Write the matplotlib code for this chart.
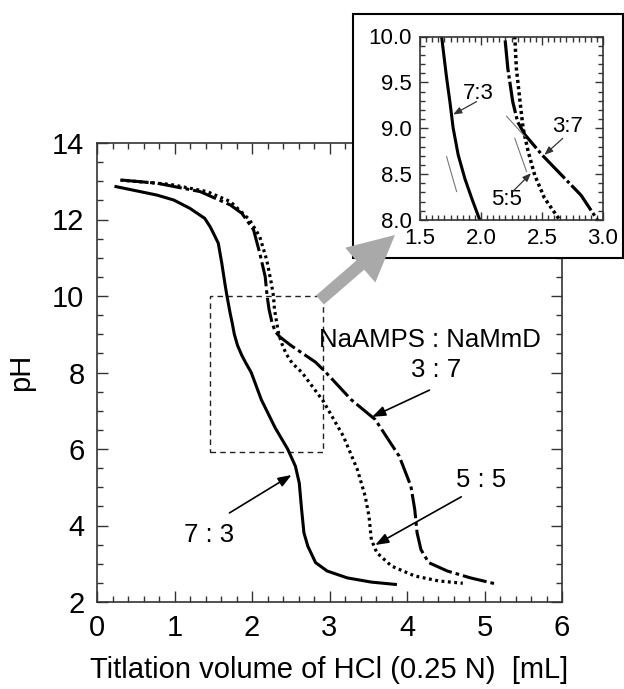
import matplotlib
matplotlib.use("Agg")
import matplotlib.pyplot as plt
from matplotlib.patches import Rectangle, FancyArrow
from matplotlib.ticker import MultipleLocator

plt.rcParams['font.family'] = ['Liberation Sans', 'DejaVu Sans']

# ---- data ----
x_73 = [0.245, 0.77, 0.99, 1.20, 1.39, 1.46, 1.50, 1.565, 1.61, 1.65, 1.677, 1.718, 1.745, 1.772,
        1.813, 1.868, 1.923, 1.99, 2.12, 2.30, 2.46, 2.56, 2.61, 2.64, 2.67, 2.72, 2.82, 2.97,
        3.23, 3.54, 3.85]
y_73 = [12.86, 12.64, 12.51, 12.29, 12.03, 11.81, 11.65, 11.38, 10.86, 10.33, 10.0, 9.55, 9.29, 9.0,
        8.71, 8.45, 8.24, 8.0, 7.29, 6.55, 6.0, 5.55, 5.11, 4.42, 3.81, 3.46, 3.03, 2.81,
        2.63, 2.52, 2.46]

x_55 = [0.30, 0.94, 1.42, 1.72, 1.97, 2.10, 2.19, 2.25, 2.277, 2.29, 2.32, 2.345, 2.386, 2.44, 2.52,
        2.645, 2.92, 3.18, 3.36, 3.46, 3.51, 3.54, 3.61, 3.80, 4.10, 4.41, 4.72]
y_55 = [13.03, 12.92, 12.73, 12.47, 11.99, 11.55, 10.94, 10.33, 10.0, 9.65, 9.29, 9.0, 8.75, 8.49, 8.24,
        8.0, 7.25, 6.33, 5.46, 4.77, 4.24, 3.63, 3.29, 2.94, 2.68, 2.55, 2.49]

x_37 = [0.32, 0.77, 1.33, 1.72, 1.87, 2.02, 2.10, 2.17, 2.195, 2.22, 2.26, 2.30, 2.36, 2.50, 2.66,
        2.82, 2.945, 3.28, 3.59, 3.90, 4.05, 4.10, 4.13, 4.18, 4.28, 4.52, 4.82, 5.13]
y_37 = [13.03, 12.95, 12.73, 12.38, 12.16, 11.73, 11.12, 10.51, 10.0, 9.65, 9.29, 9.07, 8.93, 8.71, 8.49,
        8.27, 8.02, 7.29, 6.77, 5.81, 5.03, 4.42, 3.81, 3.37, 3.03, 2.81, 2.63, 2.48]

xticks_main = [0, 1, 2, 3, 4, 5, 6]
yticks_main = [2, 4, 6, 8, 10, 12, 14]
xticks_inset = [1.5, 2.0, 2.5, 3.0]
yticks_inset = [8.0, 8.5, 9.0, 9.5, 10.0]

# tangent helper lines in the inset
tan_lines = [((1.718, 1.80), (8.69, 8.31)),
             ((2.21, 2.36), (9.13, 8.91)),
             ((2.277, 2.373), (8.89, 8.53))]

W, H = 624, 689
fig = plt.figure(figsize=(W / 100, H / 100), dpi=100)

# ---- main axes ----
ax = fig.add_axes([97 / W, 1 - 602 / H, (562 - 97) / W, (602 - 143) / H])
ax.plot(x_73, y_73, color='black', lw=2.2, ls='-')
ax.plot(x_55, y_55, color='black', lw=2.3, ls=(0, (0.9, 1.1)))
ax.plot(x_37, y_37, color='black', lw=2.2, ls=(0, (8, 1.3, 1.2, 1.3)))
ax.set_xlim(0, 6)
ax.set_ylim(2, 14)
ax.set_xticks(xticks_main)
ax.set_yticks(yticks_main)
ax.xaxis.set_minor_locator(MultipleLocator(0.2))
ax.yaxis.set_minor_locator(MultipleLocator(0.5))
ax.tick_params(which='both', direction='in', top=True, right=True, width=1.0, color='#333333')
ax.tick_params(which='major', length=8)
ax.tick_params(which='minor', length=4)
ax.tick_params(axis='x', which='major', labelsize=21, pad=9)
ax.tick_params(axis='y', which='major', labelsize=21, pad=9)
for s in ax.spines.values():
    s.set_linewidth(1.2)
    s.set_color('#333333')
ax.set_xlabel('Titlation volume of HCl (0.25 N)  [mL]', fontsize=21, labelpad=10)
ax.set_ylabel('pH', fontsize=21, labelpad=12)

# dashed zoom rectangle
ax.add_patch(Rectangle((1.46, 5.93), 2.92 - 1.46, 10.0 - 5.93, fill=False,
                       ls=(0, (4, 3)), lw=1.0, ec='#222222'))

ax.text(4.30, 8.85, 'NaAMPS : NaMmD', fontsize=18.5, ha='center', va='center')
ax.text(4.38, 8.07, '3 : 7', fontsize=18.5, ha='center', va='center')
ax.text(4.95, 5.19, '5 : 5', fontsize=18.5, ha='center', va='center')
ax.text(1.45, 3.75, '7 : 3', fontsize=18.5, ha='center', va='center')
ap = dict(arrowstyle='-|>,head_length=0.8,head_width=0.3', color='black', lw=1.2,
          shrinkA=0, shrinkB=0)
ax.annotate('', xy=(3.55, 6.84), xytext=(4.29, 7.54), arrowprops=ap)
ax.annotate('', xy=(3.59, 3.49), xytext=(4.70, 4.75), arrowprops=ap)
ax.annotate('', xy=(2.51, 5.32), xytext=(1.71, 4.33), arrowprops=ap)

# ---- inset frame ----
box = Rectangle((353 / W, 1 - 258 / H), (623 - 353) / W, (258 - 14) / H,
                transform=fig.transFigure, fc='white', ec='black', lw=1.5, zorder=1)
fig.patches.append(box)

# ---- inset axes ----
ai = fig.add_axes([420 / W, 1 - 220 / H, (603 - 420) / W, (220 - 36.5) / H], zorder=2)
ai.plot(x_73, y_73, color='black', lw=2.2)
ai.plot(x_55, y_55, color='black', lw=2.5, ls=(0, (0.9, 0.9)))
ai.plot(x_37, y_37, color='black', lw=2.3, ls=(0, (10, 1.0, 1.0, 1.0)))
for (tx, ty) in tan_lines:
    ai.plot(tx, ty, color='#777777', lw=0.8)
ai.set_xlim(1.5, 3.0)
ai.set_ylim(8.0, 10.0)
ai.set_xticks(xticks_inset)
ai.set_yticks(yticks_inset)
ai.set_xticklabels([f'{v:.1f}' for v in xticks_inset])
ai.set_yticklabels([f'{v:.1f}' for v in yticks_inset])
ai.xaxis.set_minor_locator(MultipleLocator(0.05))
ai.yaxis.set_minor_locator(MultipleLocator(0.1))
ai.tick_params(which='both', direction='in', top=True, right=True, width=1.0, color='#333333')
ai.tick_params(which='major', length=6, labelsize=16, pad=6)
ai.tick_params(which='minor', length=3.5)
for s in ai.spines.values():
    s.set_linewidth(1.2)
    s.set_color('#333333')
ai.text(1.977, 9.38, '7:3', fontsize=16, ha='center', va='center')
ai.text(2.71, 9.02, '3:7', fontsize=16, ha='center', va='center')
ai.text(2.21, 8.22, '5:5', fontsize=16, ha='center', va='center')
api = dict(arrowstyle='-|>,head_length=0.5,head_width=0.2', color='#333333', lw=0.9,
           shrinkA=0, shrinkB=0)
ai.annotate('', xy=(1.772, 9.15), xytext=(1.963, 9.29), arrowprops=api)
ai.annotate('', xy=(2.52, 8.71), xytext=(2.67, 8.89), arrowprops=api)
ai.annotate('', xy=(2.41, 8.51), xytext=(2.26, 8.31), arrowprops=api)

# ---- grey arrow ----
arr = FancyArrow(3.20, (H - 300) / 100, 0.75, 0.65, width=0.12, head_width=0.46,
                 head_length=0.46, length_includes_head=True,
                 transform=fig.dpi_scale_trans, fc='#a9a9a9', ec='none', zorder=3)
fig.patches.append(arr)

fig.savefig('out.png', dpi=100)
